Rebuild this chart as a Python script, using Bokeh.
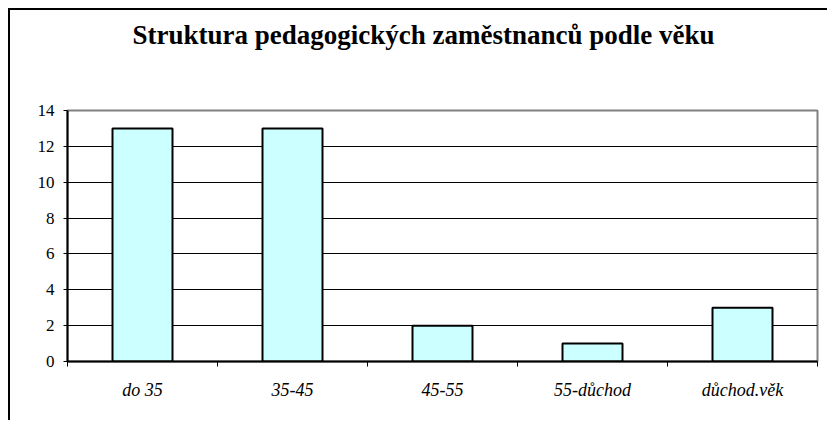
from bokeh.plotting import figure
from bokeh.models import Range1d, FixedTicker, Title
from bokeh.embed import file_html
from bokeh.resources import INLINE

title_text = "Struktura pedagogických zaměstnanců podle věku"
categories = ["do 35", "35-45", "45-55", "55-důchod", "důchod.věk"]
values = [13, 13, 2, 1, 3]
y_ticks = [0, 2, 4, 6, 8, 10, 12, 14]

n = len(categories)
centers = [i + 0.5 for i in range(n)]
bounds = [float(i) for i in range(n + 1)]

SERIF = "Liberation Serif"

p = figure(width=819, height=412, output_backend="svg", toolbar_location=None,
           x_range=Range1d(0, n), y_range=Range1d(0, 14),
           min_border_left=57, min_border_right=12, min_border_top=100, min_border_bottom=61)
p.styles = {"border-left": "2px solid black", "border-top": "2px solid black",
            "margin-left": "8px", "margin-top": "8px"}

p.title.text = title_text
p.title.align = "left"
p.title.offset = 65
p.title.vertical_align = "top"
p.title.standoff = 16
p.title.text_font = SERIF
p.title.text_font_style = "bold"
p.title.text_font_size = "27px"
p.title.text_color = "black"

# empty spacer panel between the title and the plot area
spacer = Title(text=" ", text_font_size="1px", standoff=48)
p.add_layout(spacer, "above")

p.vbar(x=centers, top=values, width=0.4, fill_color="#CCFFFF", line_color="black", line_width=2)

p.outline_line_color = "#808080"
p.outline_line_width = 2
p.background_fill_color = "white"
p.border_fill_color = "white"

# x axis
xa = p.xaxis[0]
xa.ticker = FixedTicker(ticks=centers, minor_ticks=bounds)
xa.major_label_overrides = {c: lab for c, lab in zip(centers, categories)}
xa.major_tick_line_color = None
xa.major_tick_out = 0
xa.major_tick_in = 0
xa.minor_tick_line_color = "black"
xa.minor_tick_line_width = 1
xa.minor_tick_out = 5
xa.minor_tick_in = 0
xa.axis_line_color = "black"
xa.axis_line_width = 2
xa.major_label_standoff = 13
xa.major_label_text_font = SERIF
xa.major_label_text_font_style = "italic"
xa.major_label_text_font_size = "18px"
xa.major_label_text_color = "black"

# y axis
ya = p.yaxis[0]
ya.ticker = FixedTicker(ticks=y_ticks)
ya.minor_tick_line_color = None
ya.major_tick_out = 4
ya.major_tick_in = 0
ya.major_tick_line_color = "black"
ya.axis_line_color = "black"
ya.axis_line_width = 2
ya.major_label_standoff = 9
ya.major_label_text_font = SERIF
ya.major_label_text_font_size = "17px"
ya.major_label_text_color = "black"

p.xgrid.grid_line_color = None
p.ygrid.ticker = FixedTicker(ticks=y_ticks[1:-1])
p.ygrid.grid_line_color = "black"
p.ygrid.grid_line_width = 1

open("out.html", "w").write(file_html(p, INLINE))
